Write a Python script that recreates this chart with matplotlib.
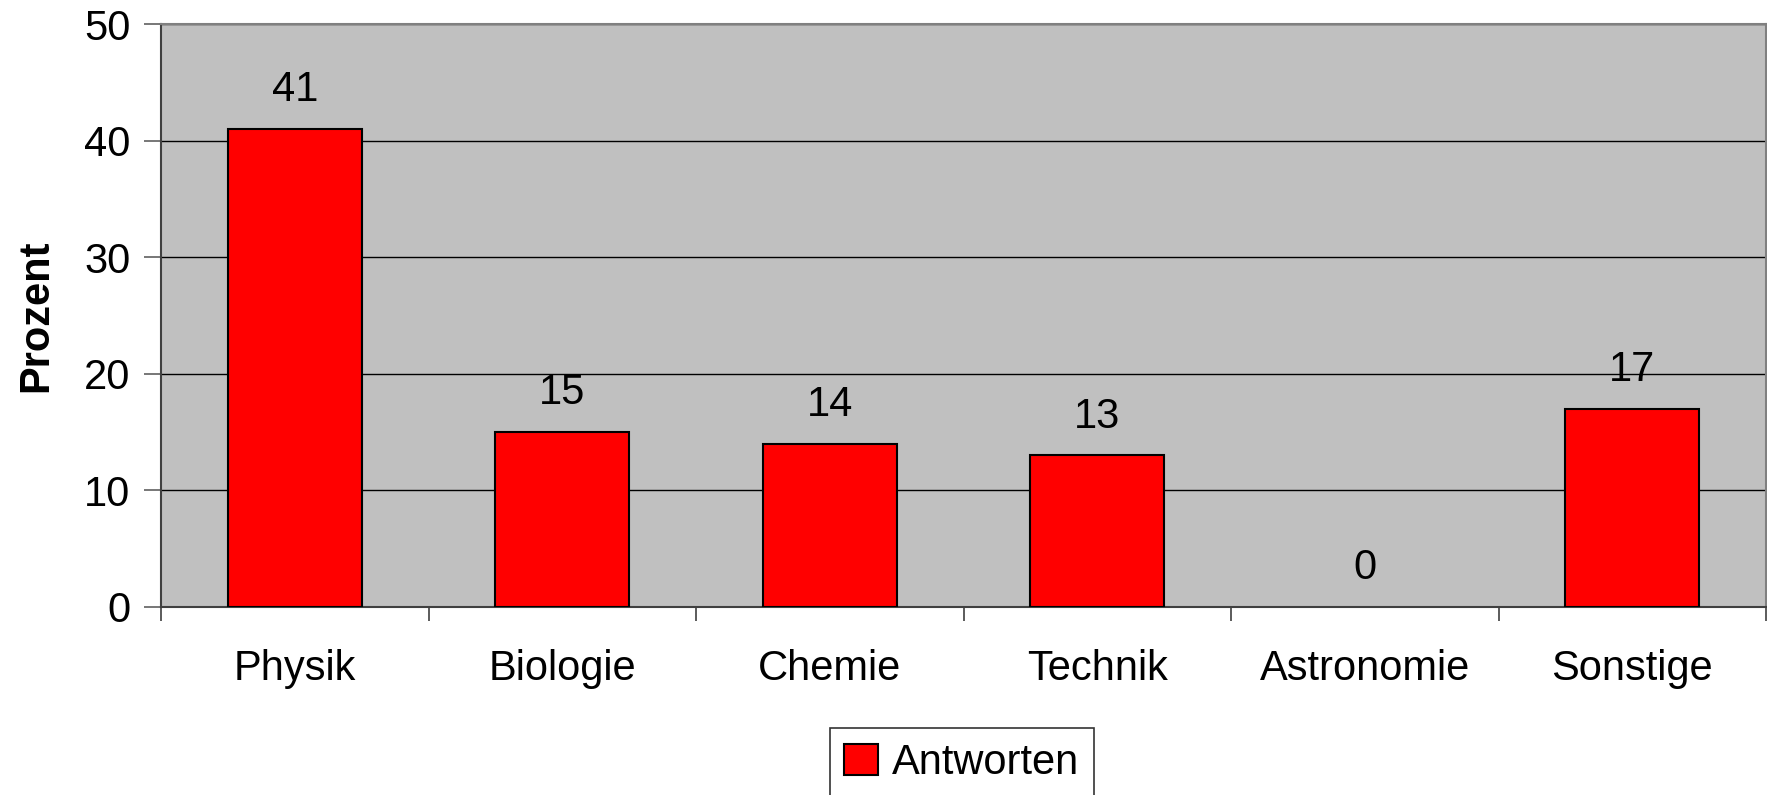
import matplotlib
matplotlib.use("Agg")
import matplotlib.pyplot as plt
import numpy as np

kategorien = ["Physik", "Biologie", "Chemie", "Technik", "Astronomie", "Sonstige"]
antworten = [41, 15, 14, 13, 0, 17]
y_ticks = [0, 10, 20, 30, 40, 50]

plt.rcParams["font.family"] = ["Liberation Sans", "DejaVu Sans"]

fig = plt.figure(figsize=(17.67, 7.95), dpi=100)
ax = fig.add_axes([161 / 1767, 1 - 607 / 795, (1766 - 161) / 1767, (607 - 24) / 795])
ax.set_facecolor("#c0c0c0")

x = np.arange(len(kategorien))
# Balken mit Wert 0 ohne Rand, damit keine Linie auf der Achse entsteht
randbreiten = [1.5 if v > 0 else 0 for v in antworten]
bars = ax.bar(x, antworten, width=0.5, color="#ff0000", edgecolor="black",
              linewidth=randbreiten, label="Antworten", zorder=3)

for xi, v in zip(x, antworten):
    ax.annotate(str(v), (xi, v), xytext=(0, 28), textcoords="offset points",
                ha="center", va="center", fontsize=30)

ax.set_xlim(-0.5, len(kategorien) - 0.5)
ax.set_ylim(0, 50)
ax.set_yticks(y_ticks)
ax.set_yticklabels([str(t) for t in y_ticks], fontsize=30)
ax.yaxis.grid(True, color="black", linewidth=1.0, zorder=1)
ax.set_axisbelow(True)

# x-Ticks an den Kategoriengrenzen, Beschriftung in der Mitte
ax.set_xticks(np.arange(len(kategorien) + 1) - 0.5)
ax.set_xticklabels([])
ax.set_xticks(x, minor=True)
ax.set_xticklabels(kategorien, minor=True, fontsize=30)
ax.tick_params(axis="x", which="minor", length=0, pad=30)
ax.tick_params(axis="x", which="major", length=10, width=1.2, color="#404040")
ax.tick_params(axis="y", length=12, width=1.2, color="#606060", pad=10)

for s in ("top", "right"):
    ax.spines[s].set_color("#808080")
    ax.spines[s].set_linewidth(1.5)
ax.spines["left"].set_color("#404040")
ax.spines["left"].set_linewidth(1.5)
ax.spines["bottom"].set_color("#404040")
ax.spines["bottom"].set_linewidth(1.5)

ax.set_ylabel("Prozent", fontsize=30, fontweight="bold", labelpad=20)

leg = fig.legend(loc="center", bbox_to_anchor=(962 / 1767, 1 - 763 / 795),
                 fontsize=30, frameon=True, fancybox=False, handlelength=0.8,
                 handleheight=0.8, handletextpad=0.35, borderpad=0.35)
leg.get_frame().set_edgecolor("black")
leg.get_frame().set_linewidth(1.2)

fig.savefig("out.png", dpi=100)
